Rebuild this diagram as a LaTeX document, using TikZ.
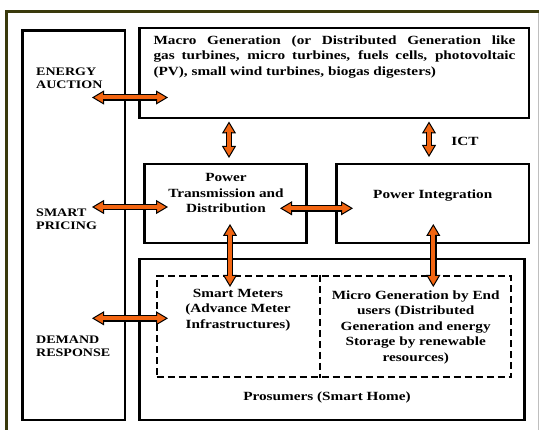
\documentclass[tikz,border=0pt]{standalone}
\usepackage{fontspec}
\setmainfont[FakeStretch=1.22]{Liberation Serif}
\usetikzlibrary{arrows.meta}
\definecolor{myorange}{RGB}{242,101,17}
\definecolor{olive}{RGB}{58,58,12}
\newcommand{\biarr}[2]{%
  \draw[arrtip] (#1) -- (#2);
  \draw[arrout] (#1) -- (#2);
  \draw[arrin] (#1) -- (#2);}
\begin{document}
\begin{tikzpicture}[x=1pt,y=-1pt,
  box/.style={draw=black, line width=2.6pt, rectangle, inner sep=0pt},
  dbox/.style={draw=black, line width=2pt, dash pattern=on 7pt off 4pt, rectangle, inner sep=0pt},
  txt/.style={inner sep=0pt, font=\fontsize{12.5}{15.6}\selectfont\bfseries},
  lbl/.style={inner sep=0pt, font=\fontsize{11.5}{13.8}\selectfont\bfseries, align=left, anchor=base west},
  arrtip/.style={line width=1pt, black, {Triangle[length=12pt,width=14pt,fill=myorange]}-{Triangle[length=12pt,width=14pt,fill=myorange]}},
  arrout/.style={line width=6.5pt, black, shorten <=11pt, shorten >=11pt},
  arrin/.style={line width=4pt, myorange, shorten <=9.5pt, shorten >=9.5pt},
  frame/.style={line width=3pt, olive}]
\useasboundingbox (0,0) rectangle (539,430);
% outer frame
\draw[frame] (539,11.5) -- (6.5,11.5) -- (6.5,430);
\draw[gray!50, line width=0.8pt] (538.2,13) -- (538.2,430);
% boxes
\node[box, minimum width=102.5pt, minimum height=389.5pt] (left) at (73.75,225.25) {};
\node[box, minimum width=389.5pt, minimum height=90pt] (macro) at (334.25,73) {};
\node[box, minimum width=162pt, minimum height=79pt] (ptd) at (225.5,203.5) {};
\node[box, minimum width=192.5pt, minimum height=79pt] (pi) at (432.75,203.5) {};
\node[box, minimum width=385pt, minimum height=161pt] (pros) at (332,339.5) {};
\node[dbox, minimum width=354.3pt, minimum height=101.3pt] (dash) at (333.85,326.65) {};
\coordinate (divx) at (320,0);
\draw[line width=2pt, dash pattern=on 7pt off 4pt] (dash.north -| divx) -- (dash.south -| divx);
% texts (base anchor = baseline of last line)
\node[lbl] (ea) at (36,89) {ENERGY\\AUCTION};
\node[lbl] (sp) at (36,230) {SMART\\PRICING};
\node[lbl] (dr) at (36,357) {DEMAND\\RESPONSE};
\node[txt, align=left, anchor=base west] (mtxt) at (153.3,75.5)
  {\makebox[362pt][s]{Macro Generation (or Distributed Generation like}\\
   \makebox[362pt][s]{gas turbines, micro turbines, fuels cells, photovoltaic}\\
   (PV), small wind turbines, biogas digesters)};
\node[txt, align=center, anchor=base] (ptdtxt) at (226,213) {Power\\Transmission and\\Distribution};
\node[txt, anchor=base] (pitxt) at (432.75,199) {Power Integration};
\node[txt, align=center, anchor=base] (smtxt) at (238,328.5) {Smart Meters\\(Advance Meter\\Infrastructures)};
\node[txt, align=center, anchor=base] (mgtxt) at (415.7,361.5) {Micro Generation by End\\users (Distributed\\Generation and energy\\Storage by renewable\\resources)};
\node[txt, anchor=base] (prtxt) at (327,400.5) {Prosumers (Smart Home)};
\node[txt, anchor=base] (ict) at (465,145.5) {ICT};
% arrow ends
\coordinate (eaA) at (92,97.5);  \coordinate (eaB) at (168,97.5);
\coordinate (spA) at (92,207);   \coordinate (spB) at (168,207);
\coordinate (drA) at (92,318.3); \coordinate (drB) at (168,318.3);
\coordinate (v1A) at (229,121.5); \coordinate (v1B) at (229,158);
\coordinate (v2A) at (429,121.5); \coordinate (v2B) at (429,157);
\coordinate (hA) at (280,208.3);  \coordinate (hB) at (353,208.3);
\coordinate (v3A) at (230,224);   \coordinate (v3B) at (230,287);
\coordinate (v4A) at (433.3,224); \coordinate (v4B) at (433.3,287);
\biarr{eaA}{eaB}
\biarr{spA}{spB}
\biarr{drA}{drB}
\biarr{v1A}{v1B}
\biarr{v2A}{v2B}
\biarr{hA}{hB}
\biarr{v3A}{v3B}
\biarr{v4A}{v4B}
\end{tikzpicture}
\end{document}
